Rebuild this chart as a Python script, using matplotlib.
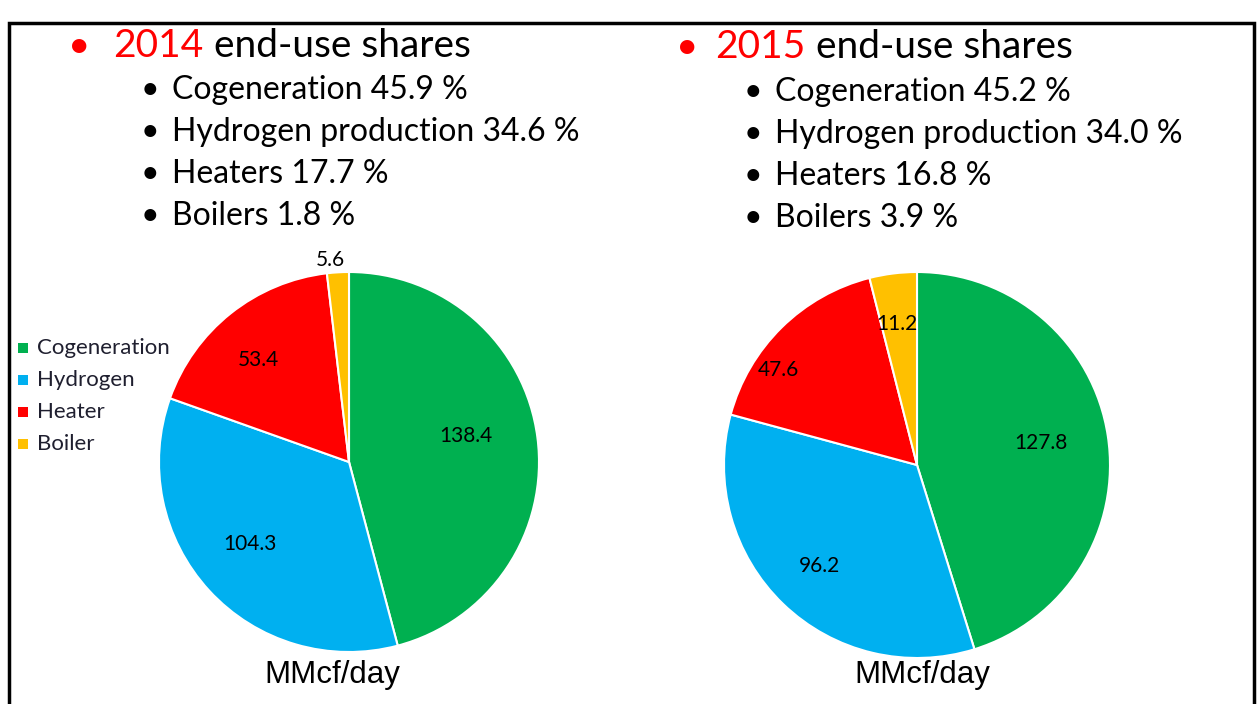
import matplotlib.pyplot as plt
from matplotlib.patches import Rectangle
import numpy as np

categories = ["Cogeneration", "Hydrogen", "Heater", "Boiler"]
values_2014 = [138.4, 104.3, 53.4, 5.6]
values_2015 = [127.8, 96.2, 47.6, 11.2]
shares_2014 = ["Cogeneration 45.9 %", "Hydrogen production 34.6 %", "Heaters 17.7 %", "Boilers 1.8 %"]
shares_2015 = ["Cogeneration 45.2 %", "Hydrogen production 34.0 %", "Heaters 16.8 %", "Boilers 3.9 %"]
colors = ["#00B050", "#00B0F0", "#FF0000", "#FFC000"]

W, H = 1259, 704
fig = plt.figure(figsize=(W / 100, H / 100), dpi=100)
font = ["Lato", "DejaVu Sans"]


def px(x, y):
    return x / W, 1 - y / H


def draw_pie(cx, cy, r, values, dists, shifts):
    ax = fig.add_axes([(cx - r) / W, 1 - (cy + r) / H, 2 * r / W, 2 * r / H])
    wedges, _ = ax.pie(values, colors=colors, startangle=90, counterclock=False,
                       wedgeprops=dict(edgecolor="white", linewidth=1.5))
    ax.set_xlim(-1, 1)
    ax.set_ylim(-1, 1)
    # label placement: distance from centre and small angle shift per wedge
    for w, v, d, s in zip(wedges, values, dists, shifts):
        ang = np.deg2rad((w.theta1 + w.theta2) / 2 + s)
        ax.text(d * np.cos(ang), d * np.sin(ang), f"{v}", ha="center", va="center",
                fontsize=15, family=font, color="black")
    return ax


draw_pie(349, 462, 190, values_2014, [0.63, 0.68, 0.72, 1.07], [5, -3, 3, 2])
draw_pie(917, 465, 193, values_2015, [0.65, 0.73, 0.87, 0.74], [1.5, 0, 11, 1])


def header(xb, xy, yr, year, shares, xs, ys):
    fig.text(*px(xb, yr), "•", color="#FF0000", fontsize=28, family=font, va="center")
    fig.text(*px(xy, yr), year, color="#FF0000", fontsize=28, family=font, va="center")
    fig.text(*px(xy + 101, yr), "end-use shares", color="black", fontsize=28,
             family=font, va="center")
    for i, s in enumerate(shares):
        y = ys + i * 42
        fig.text(*px(xs, y), "•", color="black", fontsize=23, family=font, va="center")
        fig.text(*px(xs + 31, y), s, color="black", fontsize=23, family=font, va="center")


header(68, 113, 46, "2014", shares_2014, 141, 90)
header(676, 715, 47, "2015", shares_2015, 744, 92)

# legend
for i, (lab, c) in enumerate(zip(categories, colors)):
    y = 348 + i * 32
    fig.patches.append(Rectangle(px(18, y + 5), 10 / W, 10 / H, facecolor=c,
                                 transform=fig.transFigure, figure=fig))
    fig.text(*px(37, y), lab, fontsize=16, family=font, va="center", color="#1f1f2f")

fig.text(*px(332, 675), "MMcf/day", fontsize=22.5, family="Liberation Sans",
         ha="center", va="center")
fig.text(*px(922, 675), "MMcf/day", fontsize=22.5, family="Liberation Sans",
         ha="center", va="center")

# frame
fig.patches.append(Rectangle(px(9, 720), 1245 / W, 697 / H, fill=False,
                             edgecolor="black", linewidth=2.5,
                             transform=fig.transFigure, figure=fig))

fig.savefig("out.png", dpi=100)
